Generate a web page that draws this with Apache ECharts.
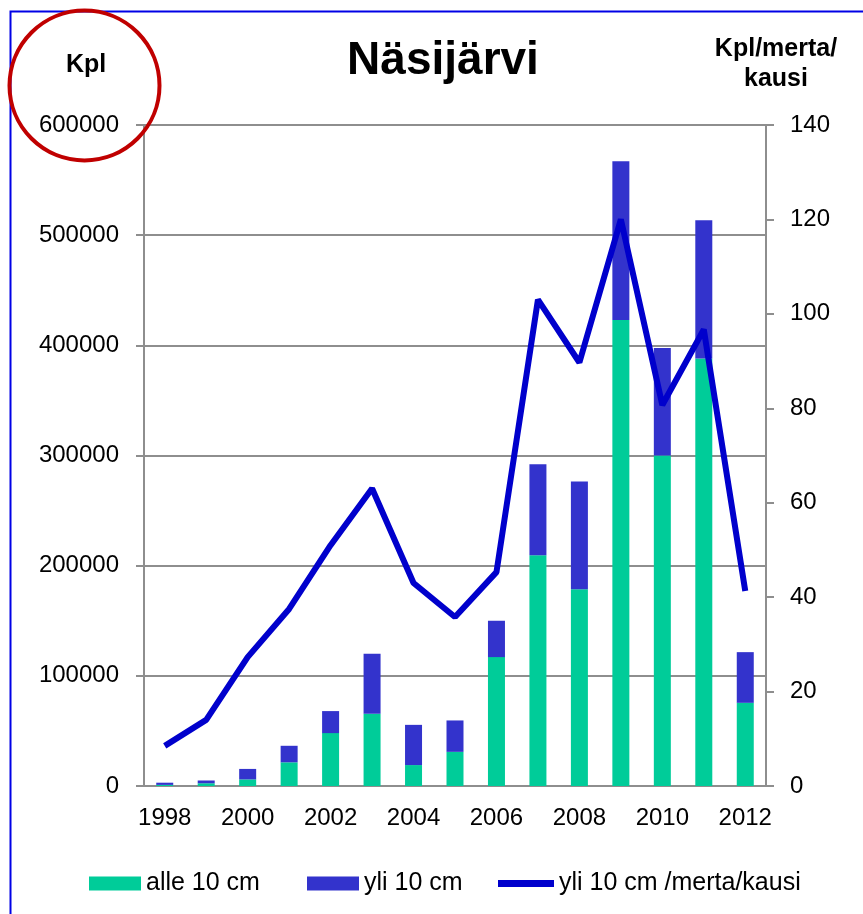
<!DOCTYPE html>
<html>
<head>
<meta charset="utf-8">
<script src="https://cdn.jsdelivr.net/npm/echarts@6/dist/echarts.min.js"></script>
<style>
  html, body { margin: 0; padding: 0; background: #fff; }
  #chart { width: 863px; height: 914px; }
</style>
</head>
<body>
<div id="chart"></div>
<script>
// ---------------------------------------------------------------------------
// Data (luettu kuvasta)
// ---------------------------------------------------------------------------
var years = ['1998', '1999', '2000', '2001', '2002', '2003', '2004', '2005',
             '2006', '2007', '2008', '2009', '2010', '2011', '2012'];
var alle10 = [1000, 2500, 6000, 21500, 48000, 65500, 19000, 31000,
              117000, 209500, 178500, 423000, 300000, 388000, 75500];
var yli10 = [2000, 2500, 9500, 15000, 20000, 54500, 36500, 28500,
             33000, 82500, 98000, 144000, 97500, 125500, 46000];
var perMerta = [8.5, 14, 27.3, 37.5, 51, 63, 43, 35.8,
                45.3, 103, 89.7, 120, 80.7, 96.7, 41.3];
var leftTicks = { min: 0, max: 600000, step: 100000 };
var rightTicks = { min: 0, max: 140, step: 20 };

var FONT = '"Liberation Sans", Arial, sans-serif';
var axisGray = '#8e8e8e';

var chart = echarts.init(document.getElementById('chart'));

function legendAt(left, name, w, h) {
    return {
        data: [{ name: name, icon: 'rect' }],
        left: left,
        top: 866,
        itemWidth: w,
        itemHeight: h,
        textStyle: { fontFamily: FONT, fontSize: 25, color: '#000' }
    };
}

var option = {
    animation: false,
    backgroundColor: '#fff',
    title: {
        text: 'Näsijärvi',
        left: 438,
        textAlign: 'center',
        top: 33,
        textStyle: { fontFamily: FONT, fontSize: 46, fontWeight: 'bold', color: '#000' }
    },
    legend: [
        legendAt(84, 'alle 10 cm', 52, 14),
        legendAt(302, 'yli 10 cm', 52, 14),
        legendAt(493, 'yli 10 cm /merta/kausi', 56, 7)
    ],
    grid: { left: 144, right: 97, top: 125, bottom: 128 },
    xAxis: {
        type: 'category',
        data: years,
        boundaryGap: true,
        axisLine: { lineStyle: { color: axisGray, width: 2 } },
        axisTick: { interval: 0, length: 8, lineStyle: { color: axisGray, width: 2 } },
        axisLabel: { interval: 1, margin: 20, fontFamily: FONT, fontSize: 24, color: '#000' }
    },
    yAxis: [{
        type: 'value',
        min: leftTicks.min, max: leftTicks.max, interval: leftTicks.step,
        axisLine: { show: true, lineStyle: { color: axisGray, width: 2 } },
        axisTick: { show: true, length: 8, lineStyle: { color: axisGray, width: 2 } },
        axisLabel: {
            margin: 25, fontFamily: FONT, fontSize: 24, color: '#000',
            formatter: function (v) { return String(v); }
        },
        splitLine: { lineStyle: { color: axisGray, width: 2 } }
    }, {
        type: 'value',
        min: rightTicks.min, max: rightTicks.max, interval: rightTicks.step,
        position: 'right',
        axisLine: { show: true, lineStyle: { color: axisGray, width: 2 } },
        axisTick: { show: true, length: 8, lineStyle: { color: axisGray, width: 2 } },
        axisLabel: { margin: 24, fontFamily: FONT, fontSize: 24, color: '#000' },
        splitLine: { show: false }
    }],
    series: [{
        name: 'alle 10 cm',
        type: 'bar',
        stack: 'kpl',
        barWidth: 17,
        data: alle10,
        itemStyle: { color: '#00CC99' }
    }, {
        name: 'yli 10 cm',
        type: 'bar',
        stack: 'kpl',
        barWidth: 17,
        data: yli10,
        itemStyle: { color: '#3333CC' }
    }, {
        name: 'yli 10 cm /merta/kausi',
        type: 'line',
        yAxisIndex: 1,
        data: perMerta,
        symbol: 'none',
        z: 5,
        lineStyle: { color: '#0000CC', width: 6 },
        itemStyle: { color: '#0000CC' }
    }],
    graphic: [
        // sininen kehys
        { type: 'rect', left: 8, top: 9, shape: { width: 900, height: 950 },
          style: { fill: 'none', stroke: '#0000e6', lineWidth: 2 }, silent: true },
        // punainen ympyrä
        { type: 'circle', shape: { cx: 84.5, cy: 85.5, r: 75 },
          style: { fill: 'none', stroke: '#C00000', lineWidth: 4 }, z: 10, silent: true },
        { type: 'text', left: 66, top: 53,
          style: { text: 'Kpl', font: 'bold 25px ' + FONT, fill: '#000' } },
        { type: 'text', x: 776, y: 34,
          style: { text: 'Kpl/merta/\nkausi', font: 'bold 25px ' + FONT, fill: '#000',
                   align: 'center', lineHeight: 30 } }
    ]
};

chart.setOption(option);
</script>
</body>
</html>
